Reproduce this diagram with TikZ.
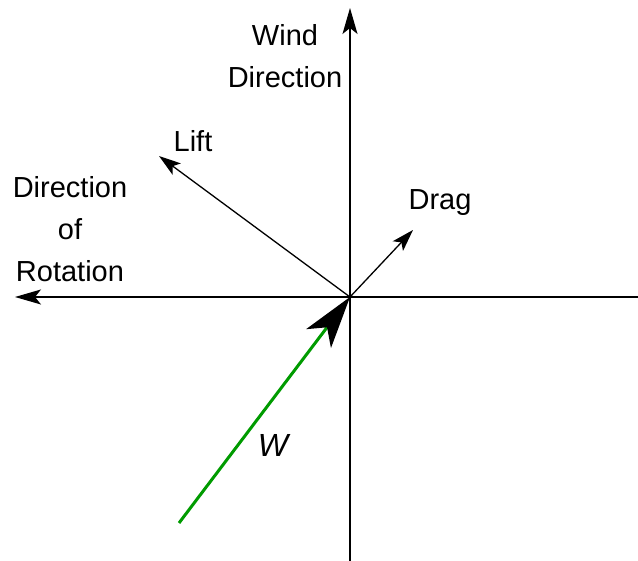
\documentclass[tikz,border=0pt]{standalone}
\usepackage{fontspec}
\setmainfont{Liberation Sans}
\usetikzlibrary{arrows.meta}
\definecolor{wgreen}{RGB}{0,155,0}
\begin{document}
\begin{tikzpicture}[x=1pt,y=-1pt,
  axis/.style={line width=1.5pt,-{Stealth[length=26pt,width=15pt,inset=6pt]}},
  force/.style={line width=1.3pt,-{Stealth[length=22pt,width=14pt,inset=5pt]}},
  lbl/.style={font=\fontsize{29}{42}\selectfont,align=center,inner sep=0pt},
]
\useasboundingbox (0,0) rectangle (638,561);
\coordinate (O) at (350,297);
\coordinate (vtop) at (350,8);
\coordinate (vbot) at (350,561);
\coordinate (hleft) at (15,297);
\coordinate (hright) at (638,297);
\coordinate (liftend) at (159,156);
\coordinate (dragend) at (413,230);
\coordinate (wstart) at (179,523);
\draw[axis] (vbot) -- (vtop);
\draw[axis] (hright) -- (hleft);
\draw[force] (O) -- (liftend);
\draw[force] (O) -- (dragend);
\draw[wgreen,line width=3pt,-{Stealth[black,length=52pt,width=31pt,inset=14pt]}] (wstart) -- (O);
\node[lbl,anchor=base] (wind) at (285,88) {Wind\\Direction};
\node[lbl,anchor=base] (rot) at (70,282) {Direction\\of\\Rotation};
\node[lbl,anchor=base] (lift) at (193,152) {Lift};
\node[lbl,anchor=base] (drag) at (440,210) {Drag};
\node[lbl,anchor=base,font=\fontsize{32}{38}\selectfont\itshape] (w) at (273,457) {W};
\end{tikzpicture}
\end{document}
